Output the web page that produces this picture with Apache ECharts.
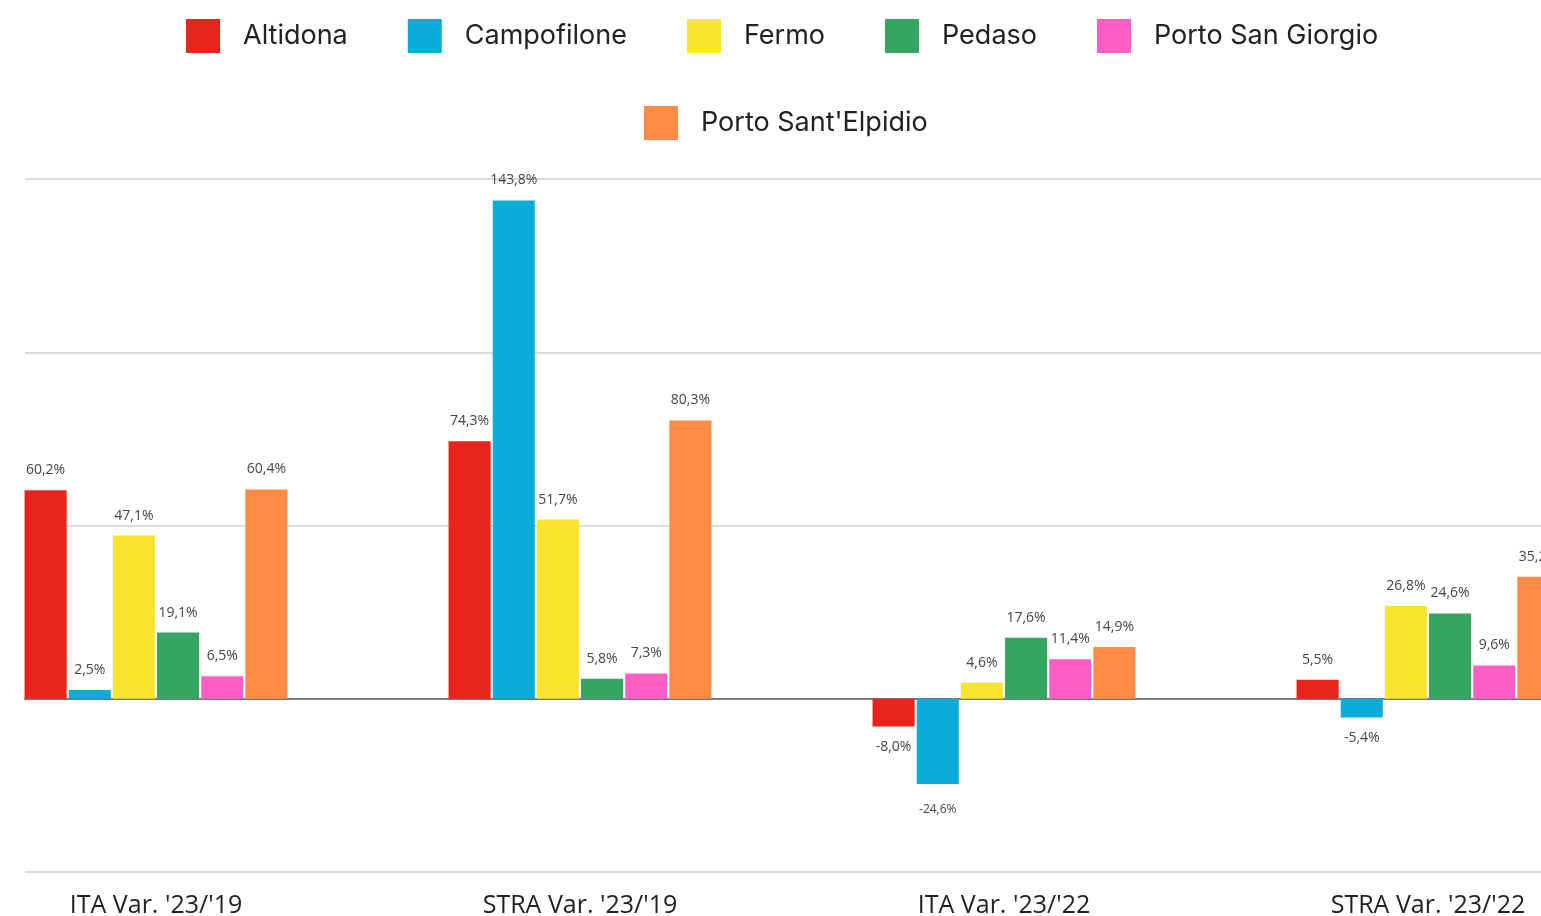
<!DOCTYPE html>
<html>
<head>
<meta charset="utf-8">
<style>
  html, body { margin: 0; padding: 0; background: #fff; }
  #chart { width: 1541px; height: 916px; }
</style>
<script src="https://cdn.jsdelivr.net/npm/echarts@6/dist/echarts.min.js"></script>
</head>
<body>
<div id="chart"></div>
<script>
// categorie e serie (variazioni %)
const categories = ["ITA Var. '23/'19", "STRA Var. '23/'19", "ITA Var. '23/'22", "STRA Var. '23/'22"]
const altidona = [60.2, 74.3, -8.0, 5.5]
const campofilone = [2.5, 143.8, -24.6, -5.4]
const fermo = [47.1, 51.7, 4.6, 26.8]
const pedaso = [19.1, 5.8, 17.6, 24.6]
const portoSanGiorgio = [6.5, 7.3, 11.4, 9.6]
const portoSantElpidio = [60.4, 80.3, 14.9, 35.2]

const seriesNames = ['Altidona', 'Campofilone', 'Fermo', 'Pedaso', 'Porto San Giorgio', "Porto Sant'Elpidio"]
const seriesData = [altidona, campofilone, fermo, pedaso, portoSanGiorgio, portoSantElpidio]
const colorList = ['#e8251a', '#0aadd8', '#f7e52e', '#34a563', '#ff5ec6', '#ff8b45']

const chart = echarts.init(document.getElementById('chart'))

const fmt = v => (v < 0 ? '-' : '') + Math.abs(v).toFixed(1).replace('.', ',') + '%'

const legendText = {
  fontFamily: 'Inter',
  fontSize: 27,
  color: '#222',
  padding: [0, 0, 0, 18]
}

chart.setOption({
  animation: false,
  color: colorList,
  legend: [{
    top: 14,
    left: 181,
    icon: 'rect',
    itemWidth: 34,
    itemHeight: 34,
    itemGap: 60,
    textStyle: legendText,
    data: seriesNames.slice(0, 5)
  }, {
    top: 101,
    left: 639,
    icon: 'rect',
    itemWidth: 34,
    itemHeight: 34,
    textStyle: legendText,
    data: seriesNames.slice(5)
  }],
  grid: [
    // grid principale (bande larghe, tagliato ai bordi come l'originale)
    { left: -56, right: -99, top: 179, bottom: 44, containLabel: false, outerBoundsMode: 'none' },
    // solo linee di griglia
    { left: 25, right: 0, top: 179, bottom: 44, containLabel: false, outerBoundsMode: 'none' }
  ],
  xAxis: [{
    type: 'category',
    gridIndex: 0,
    data: categories,
    axisLine: { show: false },
    axisTick: { show: false },
    axisLabel: {
      fontFamily: 'Open Sans',
      fontSize: 25,
      color: '#222',
      margin: 21
    }
  }, {
    type: 'value',
    gridIndex: 1,
    min: 0,
    max: 1,
    axisLine: { show: true, onZero: true, lineStyle: { color: '#7a7a7a', width: 2 } },
    axisTick: { show: false },
    axisLabel: { show: false },
    splitLine: { show: false }
  }],
  yAxis: [{
    type: 'value',
    gridIndex: 0,
    min: -50,
    max: 150,
    interval: 50,
    axisLabel: { show: false },
    axisLine: { show: false },
    axisTick: { show: false },
    splitLine: { show: false }
  }, {
    type: 'value',
    gridIndex: 1,
    min: -50,
    max: 150,
    interval: 50,
    axisLabel: { show: false },
    axisLine: { show: false },
    axisTick: { show: false },
    splitLine: { show: true, lineStyle: { color: '#cfcfcf', width: 1.5 } }
  }],
  series: seriesData.map((arr, i) => ({
    name: seriesNames[i],
    type: 'bar',
    xAxisIndex: 0,
    yAxisIndex: 0,
    barGap: '5%',
    barCategoryGap: '38%',
    data: arr.map(v => {
      const neg = v < 0
      return {
        value: v,
        label: {
          position: neg ? 'bottom' : 'top',
          distance: neg ? (v < -20 ? 20 : 14) : 13,
          fontSize: v < -20 ? 12 : 14
        }
      }
    }),
    label: {
      show: true,
      fontFamily: 'Open Sans',
      color: '#444',
      formatter: p => fmt(p.value)
    }
  }))
})
</script>
</body>
</html>
